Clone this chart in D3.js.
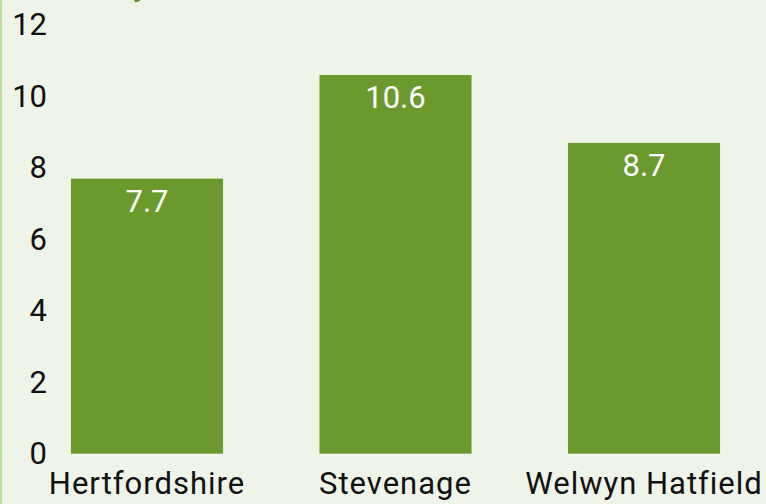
<!DOCTYPE html>
<html>
<head>
<meta charset="utf-8">
<script src="https://cdn.jsdelivr.net/npm/d3@7"></script>
<style>
  html, body { margin: 0; padding: 0; background: #eef4e8; }
  svg { display: block; }
  text { font-family: Roboto, "Noto Sans", sans-serif; }
</style>
</head>
<body>
<div class="chart"></div>
<script>
// data
const areas = ['Hertfordshire', 'Stevenage', 'Welwyn Hatfield'];
const rates = [7.7, 10.6, 8.7];
const yTicks = [0, 2, 4, 6, 8, 10, 12];

const svg_width = 766;
const svg_height = 504;

const svg = d3.select('.chart').append('svg')
  .attr('width', svg_width).attr('height', svg_height);

// background + left border
svg.append('rect').attr('width', svg_width).attr('height', svg_height).attr('fill', '#eef4e8');
svg.append('rect').attr('x', 0).attr('y', 0).attr('width', 2).attr('height', svg_height).attr('fill', '#b9e296');

// title (cut off at the top, only the descender shows)
svg.append('text').attr('x', 47).attr('y', -4)
  .text('Rate by')
  .style('font-size', '30px').style('font-weight', 'bold').style('fill', '#5a8f22');

const xScale = d3.scaleBand().domain(areas).range([22.75, 768.25]).paddingInner(0.388).paddingOuter(0.194);
const yScale = d3.scaleLinear().domain([0, 12]).range([453.7, 25]);

// bars
svg.append('g').selectAll('rect').data(areas).enter()
  .append('rect')
  .attr('x', d => xScale(d))
  .attr('width', xScale.bandwidth())
  .attr('y', (d, i) => yScale(rates[i]))
  .attr('height', (d, i) => yScale(0) - yScale(rates[i]))
  .attr('fill', '#6a9a2e');

// value labels
svg.append('g').selectAll('text').data(areas).enter()
  .append('text')
  .attr('x', d => xScale(d) + xScale.bandwidth() / 2)
  .attr('y', (d, i) => yScale(rates[i]) + 33)
  .attr('text-anchor', 'middle')
  .text((d, i) => rates[i])
  .style('font-size', '31px').style('fill', '#ffffff');

// y axis
const yAxis = d3.axisLeft(yScale).tickValues(yTicks).tickSize(0).tickPadding(0);
const yG = svg.append('g').attr('transform', 'translate(47,0)').call(yAxis);
yG.select('.domain').remove();
yG.selectAll('text').style('font-size', '31px').style('fill', '#111').style('font-family', 'Roboto, sans-serif');

// x axis
const xAxis = d3.axisBottom(xScale).tickSize(0).tickPadding(0);
const xG = svg.append('g').attr('transform', 'translate(0,472)').call(xAxis);
xG.select('.domain').remove();
xG.selectAll('text').style('font-size', '31px').style('letter-spacing', '1px')
  .style('fill', '#111').style('font-family', 'Roboto, sans-serif');
</script>
</body>
</html>
